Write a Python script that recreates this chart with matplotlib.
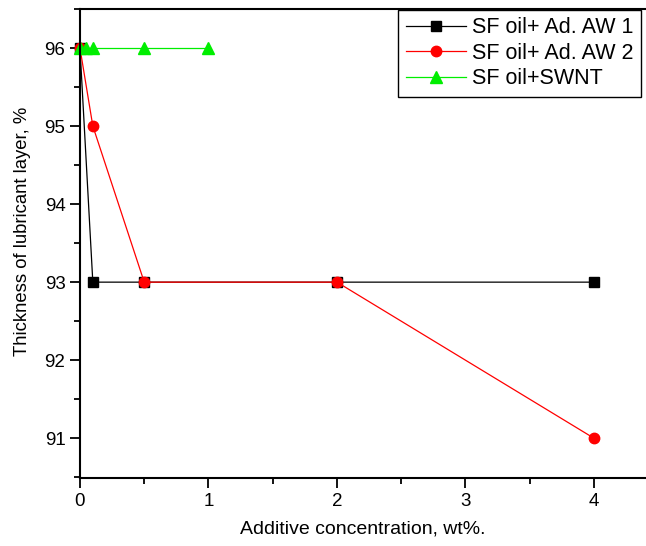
import matplotlib.pyplot as plt
from matplotlib.ticker import MultipleLocator

plt.rcParams['font.family'] = ['Liberation Sans', 'DejaVu Sans']

# data
x_aw1 = [0, 0.1, 0.5, 2, 4]
y_aw1 = [96, 93, 93, 93, 93]
x_aw2 = [0, 0.1, 0.5, 2, 4]
y_aw2 = [96, 95, 93, 93, 91]
x_swnt = [0, 0.05, 0.1, 0.5, 1]
y_swnt = [96, 96, 96, 96, 96]

fig = plt.figure(figsize=(6.46, 5.46), dpi=100)
ax = fig.add_axes([0.1238, 0.1245, 0.8762, 0.859])

ax.plot(x_aw1, y_aw1, color='black', lw=0.9, marker='s', ms=7, label='SF oil+ Ad. AW 1', clip_on=False)
ax.plot(x_aw2, y_aw2, color='red', lw=0.9, marker='o', ms=7.5, label='SF oil+ Ad. AW 2', clip_on=False)
ax.plot(x_swnt, y_swnt, color='#00ee00', lw=0.9, marker='^', ms=8, label='SF oil+SWNT', clip_on=False)

ax.set_xlim(0, 4.405)
ax.set_ylim(90.49, 96.5)
ax.xaxis.set_major_locator(MultipleLocator(1))
ax.xaxis.set_minor_locator(MultipleLocator(0.5))
ax.yaxis.set_major_locator(MultipleLocator(1))
ax.yaxis.set_minor_locator(MultipleLocator(0.5))
ax.tick_params(which='major', direction='out', length=7, width=1.3, labelsize=13.5)
ax.tick_params(which='minor', direction='out', length=4, width=1.3)
for s in ax.spines.values():
    s.set_linewidth(1.5)
ax.spines['right'].set_visible(False)

ax.set_xlabel('Additive concentration, wt%.', fontsize=14, labelpad=8)
ax.set_ylabel('Thickness of lubricant layer, %', fontsize=13.3)
ax.yaxis.set_label_coords(-0.087, 0.525)

leg = ax.legend(loc='upper left', bbox_to_anchor=((398 - 80) / 566, 0.998), borderaxespad=0,
                fontsize=15.5, fancybox=False, handlelength=2.8, handletextpad=0.3,
                labelspacing=0.2, borderpad=0.35)
leg.get_frame().set_edgecolor('black')
leg.get_frame().set_linewidth(1.0)
leg.get_frame().set_alpha(1)

fig.savefig('out.png', dpi=100)
